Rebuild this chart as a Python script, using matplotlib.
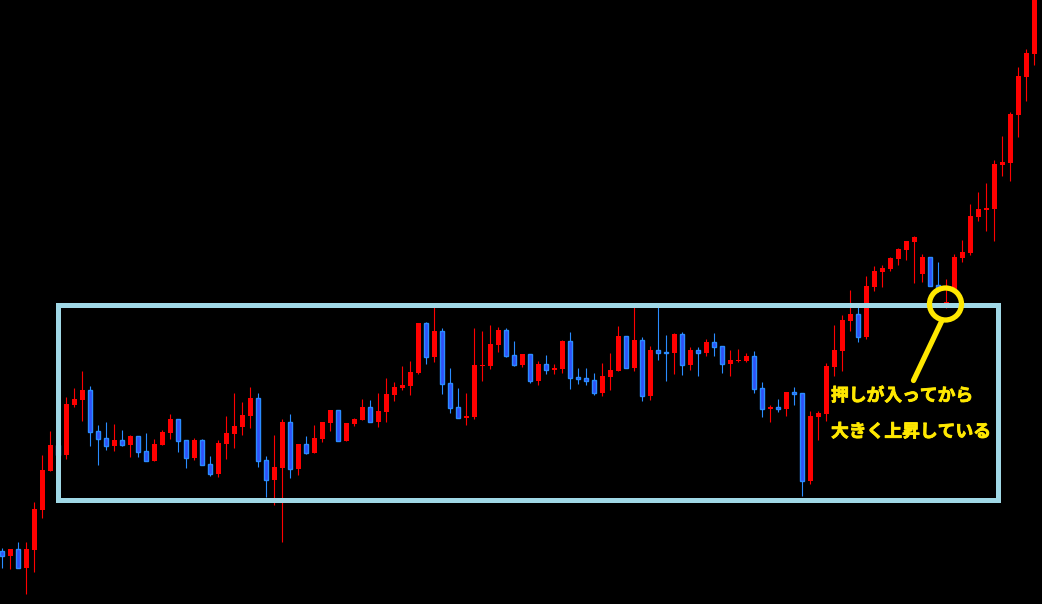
import matplotlib
matplotlib.use("Agg")
import matplotlib.pyplot as plt
import matplotlib.patches as mpatches
import matplotlib.patheffects as pe
import numpy as np

# OHLC values (arbitrary price units)
opens = [53, 48, 55, 36, 54, 94, 133, 159, 149, 199, 204, 214, 173, 166, 158, 164, 159, 168, 153, 143,
         159, 171, 185, 164, 146, 164, 140, 130, 160, 170, 177, 188, 206, 144, 124, 136, 182, 135, 160, 151,
         165, 181, 194, 163, 180, 184, 197, 182, 192, 209, 216, 218, 231, 281, 247, 273, 221, 197, 186, 187,
         238, 238, 259, 274, 249, 239, 250, 223, 240, 234, 235, 263, 227, 226, 224, 211, 227, 233, 268, 236,
         264, 208, 254, 252, 251, 270, 239, 254, 251, 262, 258, 240, 243, 243, 248, 216, 195, 197, 195, 212,
         211, 123, 187, 190, 237, 253, 283, 290, 267, 317, 332, 335, 345, 354, 362, 330, 347, 319, 298, 314,
         346, 351, 387, 394, 395, 439, 441, 489, 527, 550]
highs = [56, 55, 62, 62, 102, 149, 173, 164, 207, 216, 233, 218, 179, 182, 180, 174, 169, 168, 171, 165,
         174, 190, 185, 164, 166, 165, 148, 164, 188, 211, 202, 217, 211, 148, 169, 185, 190, 160, 168, 179,
         182, 194, 194, 181, 186, 205, 204, 211, 226, 222, 238, 243, 281, 282, 297, 276, 236, 216, 211, 276,
         273, 279, 277, 276, 263, 250, 250, 243, 249, 240, 264, 272, 236, 236, 231, 241, 251, 278, 268, 297,
         267, 258, 298, 269, 271, 272, 257, 257, 265, 271, 258, 254, 255, 251, 253, 222, 199, 205, 212, 217,
         211, 193, 193, 241, 279, 289, 314, 297, 328, 338, 339, 347, 356, 363, 368, 350, 347, 342, 325, 350,
         364, 400, 412, 421, 444, 468, 492, 537, 555, 614]
lows = [36, 35, 36, 10, 32, 86, 133, 148, 145, 197, 183, 158, 139, 154, 153, 158, 147, 147, 143, 143,
        159, 165, 152, 136, 144, 139, 128, 127, 145, 156, 169, 176, 137, 107, 99, 62, 126, 129, 150, 151,
        162, 173, 163, 163, 178, 184, 182, 177, 182, 203, 214, 209, 230, 240, 242, 210, 191, 186, 179, 185,
        223, 235, 252, 247, 238, 237, 221, 219, 230, 230, 231, 215, 220, 219, 209, 208, 214, 233, 236, 233,
        203, 204, 244, 223, 230, 229, 234, 228, 248, 248, 231, 228, 242, 242, 211, 187, 182, 192, 188, 199,
        108, 120, 164, 183, 228, 233, 273, 262, 265, 313, 317, 333, 339, 344, 321, 322, 318, 312, 296, 312,
        342, 349, 383, 373, 363, 428, 423, 467, 503, 539]
closes = [48, 55, 36, 55, 95, 134, 159, 149, 200, 205, 214, 172, 165, 158, 164, 159, 168, 152, 143, 160,
          172, 185, 163, 146, 164, 139, 130, 161, 171, 178, 189, 206, 143, 124, 137, 182, 135, 160, 151, 166,
          182, 194, 163, 181, 185, 197, 182, 193, 210, 217, 219, 232, 281, 247, 273, 220, 196, 186, 188, 239,
          239, 260, 274, 248, 239, 250, 223, 240, 234, 236, 263, 226, 225, 223, 211, 228, 234, 268, 236, 264,
          208, 254, 251, 251, 270, 239, 254, 251, 262, 257, 240, 244, 244, 248, 215, 195, 197, 195, 212, 210,
          123, 188, 191, 238, 254, 284, 290, 267, 318, 333, 336, 346, 355, 363, 367, 347, 318, 315, 302, 347,
          352, 388, 395, 396, 440, 442, 490, 528, 551, 609]

annotation_lines = ["押しが入ってから", "大きく上昇している"]

UP = "#ff0000"
DOWN_FACE = "#3050f8"
DOWN_EDGE = "#2a8cff"
BOX = "#a0d8e6"
YELLOW = "#ffe800"

W, H = 1042, 604
fig = plt.figure(figsize=(W / 100, H / 100), dpi=100, facecolor="black")
ax = fig.add_axes([0, 0, 1, 1])
ax.set_facecolor("black")

o = np.array(opens, float)
h = np.array(highs, float)
l = np.array(lows, float)
c = np.array(closes, float)
x = np.arange(len(o))
up = c >= o

# wicks
ax.vlines(x[up], l[up], h[up], color=UP, linewidth=0.8, zorder=2)
ax.vlines(x[~up], l[~up], h[~up], color=DOWN_EDGE, linewidth=0.8, zorder=2)

# bodies
bottom = np.minimum(o, c)
height = np.maximum(np.abs(c - o), 1.5)
ax.bar(x[up], height[up], bottom=bottom[up], width=0.625, color=UP,
       edgecolor=UP, linewidth=0, zorder=3)
ax.bar(x[~up], height[~up], bottom=bottom[~up], width=0.52, color=DOWN_FACE,
       edgecolor=DOWN_EDGE, linewidth=1.0, zorder=3)

ax.set_xlim(-2.3 / 8, (W - 2.3) / 8)
ax.set_ylim(0, H)
ax.axis("off")

# overlay in pixel coordinates for annotations
ov = fig.add_axes([0, 0, 1, 1])
ov.set_xlim(0, W)
ov.set_ylim(H, 0)
ov.axis("off")
ov.patch.set_alpha(0)

ov.add_patch(mpatches.Rectangle((57.5, 304.5), 940, 195, fill=False,
                                edgecolor=BOX, linewidth=3.6, joinstyle="miter"))
ov.add_patch(mpatches.Circle((945.5, 304), 16, fill=False,
                             edgecolor=YELLOW, linewidth=3.8))
ov.plot([941.5, 913.5], [321.5, 380.5], color=YELLOW, linewidth=3.8,
        solid_capstyle="round")

for i, line in enumerate(annotation_lines):
    ov.text(831, 396 + 36 * i, line, color=YELLOW, fontsize=12.8, fontweight="bold",
            family=["Noto Sans CJK JP", "DejaVu Sans"], ha="left", va="center",
            path_effects=[pe.withStroke(linewidth=0.6, foreground=YELLOW)])

fig.savefig("out.png", dpi=100, facecolor="black")
